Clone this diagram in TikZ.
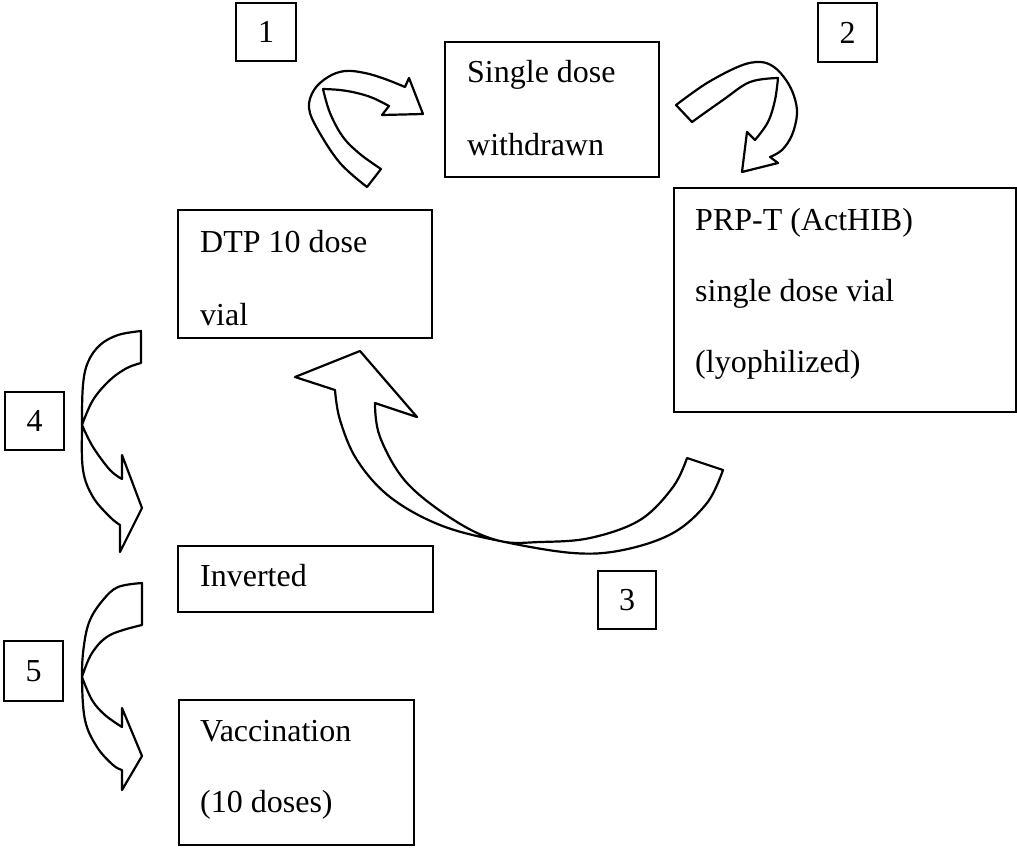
\documentclass[tikz,border=0pt]{standalone}
\usepackage{fontspec}
\setmainfont{Liberation Serif}
\begin{document}
\begin{tikzpicture}[x=1pt,y=-1pt,
  box/.style={draw,line width=2.2pt,anchor=north west,outer sep=0pt,inner sep=0pt},
  numbox/.style={draw,line width=2.2pt,inner sep=0pt,font=\fontsize{32}{38}\selectfont},
  txt/.style={anchor=base west,inner sep=0pt,font=\fontsize{32}{38}\selectfont},
  barrow/.style={draw,fill=white,line width=2.2pt,line join=round}]
\useasboundingbox (0,0) rectangle (1017,847);

% main boxes
\node[box,minimum width=214pt,minimum height=135pt] (sdw) at (445,42) {};
\node[box,minimum width=254pt,minimum height=128pt] (dtp) at (178,210) {};
\node[box,minimum width=342pt,minimum height=224pt] (prp) at (674,188) {};
\node[box,minimum width=255pt,minimum height=66pt] (inv) at (178,546) {};
\node[box,minimum width=235pt,minimum height=145pt] (vac) at (179,700) {};

% texts
\node[txt] (sdw1) at (467,82) {Single dose};
\node[txt] (sdw2) at (467,155) {withdrawn};
\node[txt] (dtp1) at (200,252) {DTP 10 dose};
\node[txt] (dtp2) at (200,325) {vial};
\node[txt] (prp1) at (695,230) {PRP-T (ActHIB)};
\node[txt] (prp2) at (695,301) {single dose vial};
\node[txt] (prp3) at (695,372) {(lyophilized)};
\node[txt] (inv1) at (200,586) {Inverted};
\node[txt] (vac1) at (200,741) {Vaccination};
\node[txt] (vac2) at (200,812) {(10 doses)};

% number boxes
\node[numbox,minimum width=60pt,minimum height=58pt] (n1) at (266,32) {1};
\node[numbox,minimum width=59pt,minimum height=59pt] (n2) at (847.5,32.5) {2};
\node[numbox,minimum width=58pt,minimum height=58pt] (n3) at (627,600) {3};
\node[numbox,minimum width=59pt,minimum height=58pt] (n4) at (34.5,421) {4};
\node[numbox,minimum width=59pt,minimum height=60pt] (n5) at (33.5,671) {5};

% arrow 1 (DTP -> single dose)
\draw[barrow] plot[smooth,tension=0.6] coordinates {(367,187) (340,163) (318,130) (309,108) (314,90) (328,77) (345,71) (365,73) (385,79) (405,87)}
  -- (409,78) -- (423,114) -- (382,115) -- (389,106)
  -- plot[smooth,tension=0.6] coordinates {(389,106) (373,98) (357,93) (340,90) (323,89)}
  -- plot[smooth,tension=0.6] coordinates {(323,89) (330,113) (343,137) (360,154) (381,169)}
  -- cycle;

% arrow 2 (single dose -> PRP-T)
\draw[barrow] plot[smooth,tension=0.6] coordinates {(676,105) (707,83) (740,66) (760,62) (774,67) (786,80) (794,96) (797,114) (792,135) (782,150) (770,157)}
  -- (778,163) -- (742,172) -- (747,132) -- (755,140)
  -- plot[smooth,tension=0.6] coordinates {(755,140) (768,122) (775,100) (778,78)}
  -- plot[smooth,tension=0.6] coordinates {(778,78) (750,82) (723,100) (692,122)}
  -- cycle;

% arrow 3 (PRP-T -> DTP)
\draw[barrow] (295,377) -- (335,390)
  -- plot[smooth,tension=0.6] coordinates {(335,390) (340,420) (357,460) (390,497) (440,525) (500,541) (573,553) (623,550) (673,533) (707,503) (723,470)}
  -- (687,458)
  -- plot[smooth,tension=0.6] coordinates {(687,458) (673,487) (640,520) (590,538) (540,542) (500,541) (457,522) (407,483) (380,437) (375,403)}
  -- (417,417) -- (360,351) -- cycle;

% arrow 4 (DTP -> inverted)
\draw[barrow] plot[smooth,tension=0.6] coordinates {(141,331) (118,335) (100,345) (88,362) (83,385) (82,425) (83,470) (93,497) (110,517) (120,525)}
  -- (120,552) -- (142,508) -- (122,455) -- (122,479)
  -- plot[smooth,tension=0.6] coordinates {(122,479) (110,470) (93,447) (82,425)}
  -- plot[smooth,tension=0.6] coordinates {(82,425) (93,400) (110,380) (127,368) (141,363)}
  -- cycle;

% arrow 5 (inverted -> vaccination)
\draw[barrow] plot[smooth,tension=0.6] coordinates {(142,583) (118,587) (103,600) (90,620) (84,645) (82,677) (85,720) (97,747) (113,765) (122,770)}
  -- (122,790) -- (142,756) -- (122,708) -- (122,727)
  -- plot[smooth,tension=0.6] coordinates {(122,727) (105,715) (92,700) (82,677)}
  -- plot[smooth,tension=0.6] coordinates {(82,677) (92,653) (110,635) (142,625)}
  -- cycle;
\end{tikzpicture}
\end{document}
